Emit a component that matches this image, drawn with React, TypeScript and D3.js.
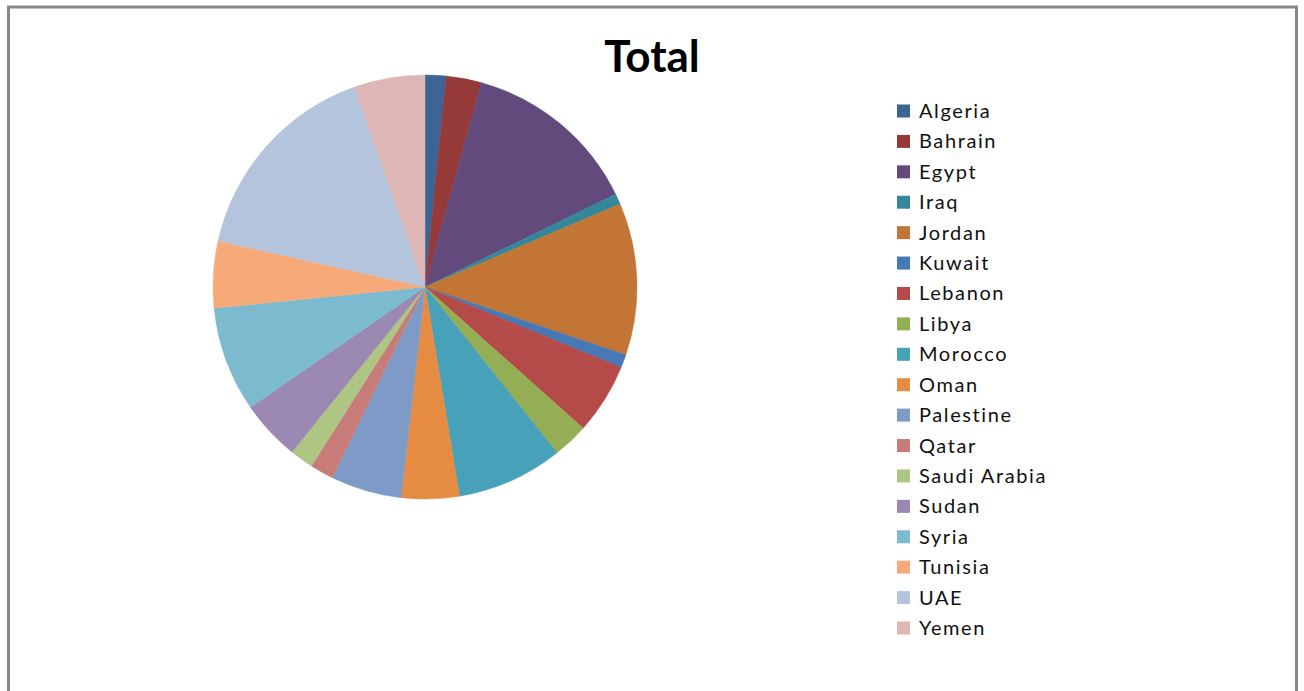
import React from "react";
import * as d3 from "d3";

const countries = [
  "Algeria", "Bahrain", "Egypt", "Iraq", "Jordan", "Kuwait", "Lebanon", "Libya", "Morocco",
  "Oman", "Palestine", "Qatar", "Saudi Arabia", "Sudan", "Syria", "Tunisia", "UAE", "Yemen",
];
const totals = [1.6, 2.7, 13.5, 0.8, 11.6, 1.0, 5.4, 2.7, 8.1, 4.4, 5.4, 1.8, 1.8, 4.6, 8.0, 5.1, 16.1, 5.4];
const colors = [
  "#3C6495", "#953A38", "#624B7C", "#34889A", "#C37535", "#4679B5", "#B44B49", "#93AE54", "#47A1B8",
  "#E68C42", "#7E9BC7", "#C87C7A", "#AEC583", "#9C89B3", "#7CBAD0", "#F6AA79", "#B5C4DD", "#DEB6B6",
];
const title = "Total";

export default function App() {
  const cx = 425, cy = 287, r = 212;
  const pie = d3.pie<number>().sort(null).value((d) => d).startAngle(0).endAngle(2 * Math.PI);
  const arcs = pie(totals);
  const arcGen = d3.arc<d3.PieArcDatum<number>>().innerRadius(0).outerRadius(r);
  const legendY = d3.scaleLinear().domain([0, countries.length - 1]).range([111, 628]);

  return (
    <svg width={1304} height={691} style={{ position: "fixed", left: 0, top: 0, background: "#fff" }}>
      <rect x={0} y={0} width={1304} height={691} fill="#fff" />
      <rect x={8.5} y={7} width={1288} height={720} fill="#fff" stroke="#878787" strokeWidth={3} />
      <text x={652} y={72} textAnchor="middle" fontFamily="Lato, 'Open Sans', sans-serif" fontWeight="bold" fontSize={44} fill="#000">
        {title}
      </text>
      <g transform={`translate(${cx},${cy})`}>
        {arcs.map((a, i) => (
          <path key={countries[i]} d={arcGen(a) || ""} fill={colors[i]} stroke={colors[i]} strokeWidth={0.5} />
        ))}
      </g>
      <g>
        {countries.map((c, i) => (
          <g key={c} transform={`translate(897,${legendY(i)})`}>
            <rect x={0} y={-6.5} width={13} height={13} fill={colors[i]} />
            <text x={22} y={7} fontFamily="Lato, sans-serif" fontSize={20} letterSpacing={1.6} fill="#111">
              {c}
            </text>
          </g>
        ))}
      </g>
    </svg>
  );
}
